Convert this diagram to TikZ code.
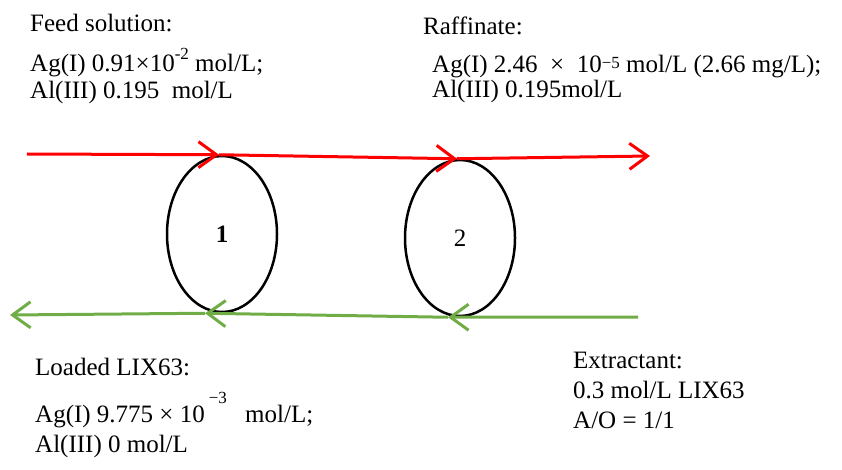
\documentclass[tikz,border=0pt]{standalone}
\usepackage{fontspec}
\setmainfont{Liberation Serif}
\usepackage{xcolor}
\usetikzlibrary{shapes.geometric,arrows.meta}
\definecolor{aqred}{RGB}{255,0,0}
\definecolor{orggreen}{RGB}{112,173,71}
\tikzstyle{stage}=[fill=white, draw=black, line width=2.5pt, shape=ellipse, minimum width=110pt, minimum height=156pt, inner sep=0pt, font=\fontsize{25}{27}\selectfont]
\tikzstyle{aq flow}=[draw=aqred, line width=3pt, -{Straight Barb[length=18pt,width=26pt]}]
\tikzstyle{org flow}=[draw=orggreen, line width=3pt, -{Straight Barb[length=18pt,width=26pt]}]
\tikzstyle{note}=[anchor=base west, align=left, inner sep=0pt, font=\fontsize{25}{30}\selectfont]
\newcommand{\expo}[2]{\raisebox{#1}{\fontsize{17}{17}\selectfont #2}}
\pgfdeclarelayer{nodelayer}
\pgfdeclarelayer{edgelayer}
\pgfsetlayers{main,nodelayer,edgelayer}

\begin{document}
\begin{tikzpicture}[x=1pt, y=-1pt]
	\useasboundingbox (0, 0) rectangle (842, 470);
	\begin{pgfonlayer}{nodelayer}
		\node [style=stage] (0) at (222, 234) {\textbf{1}};
		\node [style=stage] (1) at (460, 238) {2};
		\coordinate (2) at (27, 154);
		\coordinate (3) at (650, 156);
		\coordinate (4) at (638, 317);
		\coordinate (5) at (10, 315);
		% base anchor sits on the last line
		\node [style=note] (6) at (30, 99) {Feed solution:\\[10pt]Ag(I) 0.91×10\expo{12pt}{-2} mol/L;\\[-3pt]Al(III) 0.195~~mol/L};
		\node [style=note] (7) at (423, 98) {Raffinate:\\[8pt]\hspace*{9pt}Ag(I) 2.46~~×~~10\expo{4pt}{−5} mol/L (2.66 mg/L);\\[-5pt]\hspace*{9pt}Al(III) 0.195mol/L};
		\node [style=note] (8) at (35, 452) {Loaded LIX63:\\[15pt]Ag(I) 9.775 × 10\hspace{4pt}\expo{19pt}{−3}\hspace{12pt} mol/L;\\Al(III) 0 mol/L};
		\node [style=note] (9) at (573, 428) {Extractant:\\0.3 mol/L LIX63\\A/O = 1/1};
	\end{pgfonlayer}
	\begin{pgfonlayer}{edgelayer}
		\draw [style=aq flow] (2) to ([xshift=-3pt]0.north);
		\draw [style=aq flow] ([xshift=-3pt]0.north) to ([xshift=-3pt]1.north);
		\draw [style=aq flow] ([xshift=-3pt]1.north) to (3);
		\draw [style=org flow] (4) to ([xshift=-12pt]1.south);
		\draw [style=org flow] ([xshift=-12pt]1.south) to ([xshift=-17pt]0.south);
		\draw [style=org flow] ([xshift=-17pt]0.south) to (5);
	\end{pgfonlayer}
\end{tikzpicture}
\end{document}
